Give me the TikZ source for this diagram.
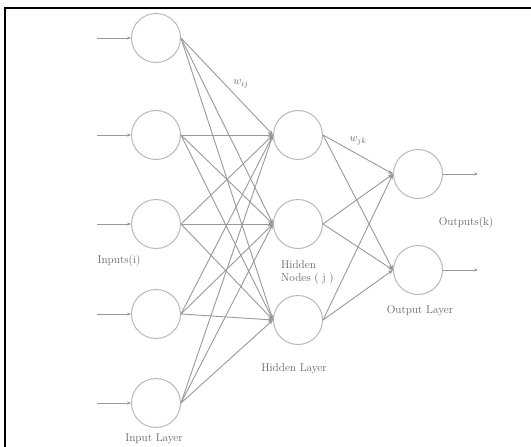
\documentclass[tikz,border=0pt]{standalone}
\usetikzlibrary{arrows.meta}
\begin{document}
\begin{tikzpicture}[x=1pt,y=-1pt,
  neuron/.style={circle,draw=gray!55,line width=1pt,minimum size=49pt,inner sep=0pt},
  conn/.style={draw=gray!80,line width=0.9pt,-{Stealth[length=5pt,width=4pt,fill=black!70]}},
  io/.style={draw=gray!80,line width=0.9pt,-{Stealth[length=4pt,width=3pt,fill=black!70]}},
  lbl/.style={font=\fontsize{11.3}{13}\selectfont,text=black!60,inner sep=0pt}]
\useasboundingbox (0,0) rectangle (531,447);
\fill[white] (0,0) rectangle (531,447);
% frame
\draw[line width=1.7pt] (5,447) -- (5,8) -- (531,8);
% input nodes
\foreach \i/\y in {1/38,2/135,3/224,4/314,5/403}{
  \node[neuron] (i\i) at (156,\y) {};
  \coordinate (s\i) at (97,\y);
  \draw[io] (s\i) -- (i\i.west);
}
% hidden nodes
\foreach \j/\y in {1/135,2/224,3/320}{
  \node[neuron] (h\j) at (298,\y) {};
}
% output nodes
\foreach \k/\y in {1/174,2/270}{
  \node[neuron] (o\k) at (418,\y) {};
  \coordinate (t\k) at (478,\y);
  \draw[io] (o\k.east) -- (t\k);
}
\foreach \i in {1,...,5}{
  \foreach \j in {1,2,3}{
    \draw[conn] (i\i.east) -- (h\j.west);
  }
}
\foreach \j in {1,2,3}{
  \foreach \k in {1,2}{
    \draw[conn] (h\j.east) -- (o\k.west);
  }
}
% labels
\node[lbl] (wij) at (241,84) {$w_{ij}$};
\node[lbl] (wjk) at (358,141) {$w_{jk}$};
\node[lbl] (inp) at (119,261) {Inputs(i)};
\node[lbl,align=left,anchor=west] (hn) at (281,272) {Hidden\\Nodes ( j )};
\node[lbl] (hl) at (294,369) {Hidden Layer};
\node[lbl] (outs) at (466,223) {Outputs(k)};
\node[lbl] (ol) at (420,311) {Output Layer};
\node[lbl] (il) at (154,439) {Input Layer};
\end{tikzpicture}
\end{document}
